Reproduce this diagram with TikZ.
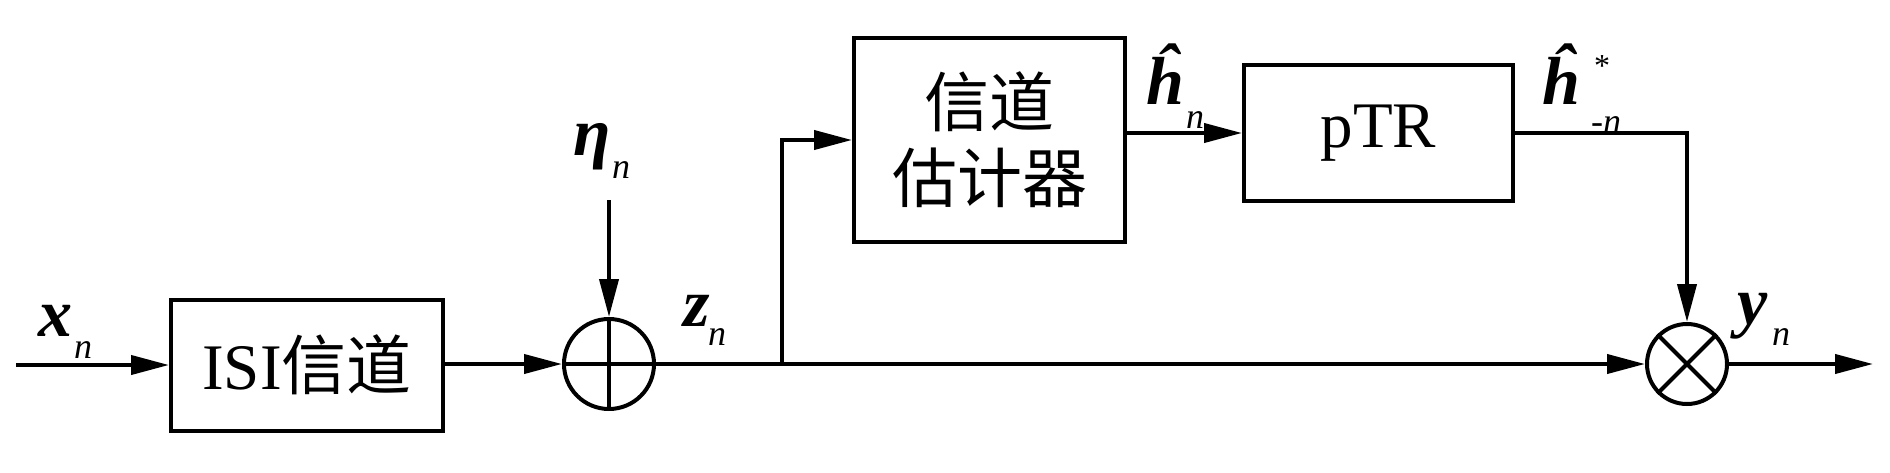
\documentclass[tikz,border=0pt]{standalone}
\usepackage{fontspec}
\setmainfont{Liberation Serif}
\newfontfamily\cjk{Noto Sans CJK SC}
\usetikzlibrary{arrows.meta,calc}
\begin{document}
\begin{tikzpicture}[x=0.5pt,y=-0.5pt,
  line width=2pt,
  >={Triangle[length=19pt,width=9.5pt]},
  blk/.style={draw,line width=2pt,inner sep=0pt,align=center,
    font=\fontsize{32.5}{38}\selectfont},
  sumnode/.style={draw,circle,line width=2pt,inner sep=0pt,minimum size=#1},
  base/.style={inner sep=0pt,font=\fontsize{34}{40}\selectfont\bfseries\itshape},
  sub/.style={inner sep=0pt,font=\fontsize{18}{20}\selectfont\itshape}
]
\useasboundingbox (0,0) rectangle (1890,472);

% blocks
\node[blk,minimum width=136pt,minimum height=65.5pt] (isi) at (307,365) {ISI{\cjk 信道}};
\node[sumnode=45pt] (add) at (609,364) {};
\node[blk,minimum width=135.5pt,minimum height=102pt] (est) at (989.5,140) {{\cjk 信道}\\{\cjk 估计器}};
\node[blk,minimum width=134.5pt,minimum height=68pt] (ptr) at (1378.5,133) {pTR};
\node[sumnode=40pt] (mul) at (1687,364) {};

% symbols inside circles
\draw (add.north) -- (add.south);
\draw (add.west) -- (add.east);
\draw (mul.45) -- (mul.225);
\draw (mul.135) -- (mul.315);

% coordinates
\coordinate (in) at (16,365);
\coordinate (eta) at (609,200);
\coordinate (br) at (782,364);
\coordinate (out) at (1873,364);

% connectors
\draw[->] (in) -- (isi.west);
\draw[->] (isi.east |- add.west) -- (add.west);
\draw[->] (eta) -- (add.north);
\draw[->] (add.east) -- (mul.west);
\draw[->] (br) |- (est.west);
\draw[->] (est.east |- ptr.west) -- (ptr.west);
\draw[->] (ptr.east) -| (mul.north);
\draw[->] (mul.east) -- (out);

% labels
\node[base] (xl) at (56,321) {x};
\node[sub] (xs) at (83,350) {n};
\node[base] (etal) at (592,147) {η};
\node[sub] (etas) at (621,170) {n};
\node[base] (zl) at (697,311) {z};
\node[sub] (zs) at (717,337) {n};
\node[base] (hl) at (1165,74) {ĥ};
\node[sub] (hs) at (1195,120) {n};
\node[base] (h2l) at (1561,74) {ĥ};
\node[inner sep=0pt,font=\fontsize{16}{18}\selectfont] (h2st) at (1602,66) {*};
\node[sub] (h2s) at (1606,125) {-n};
\node[base] (yl) at (1753,316) {y};
\node[sub] (ys) at (1781,337) {n};
\end{tikzpicture}
\end{document}
